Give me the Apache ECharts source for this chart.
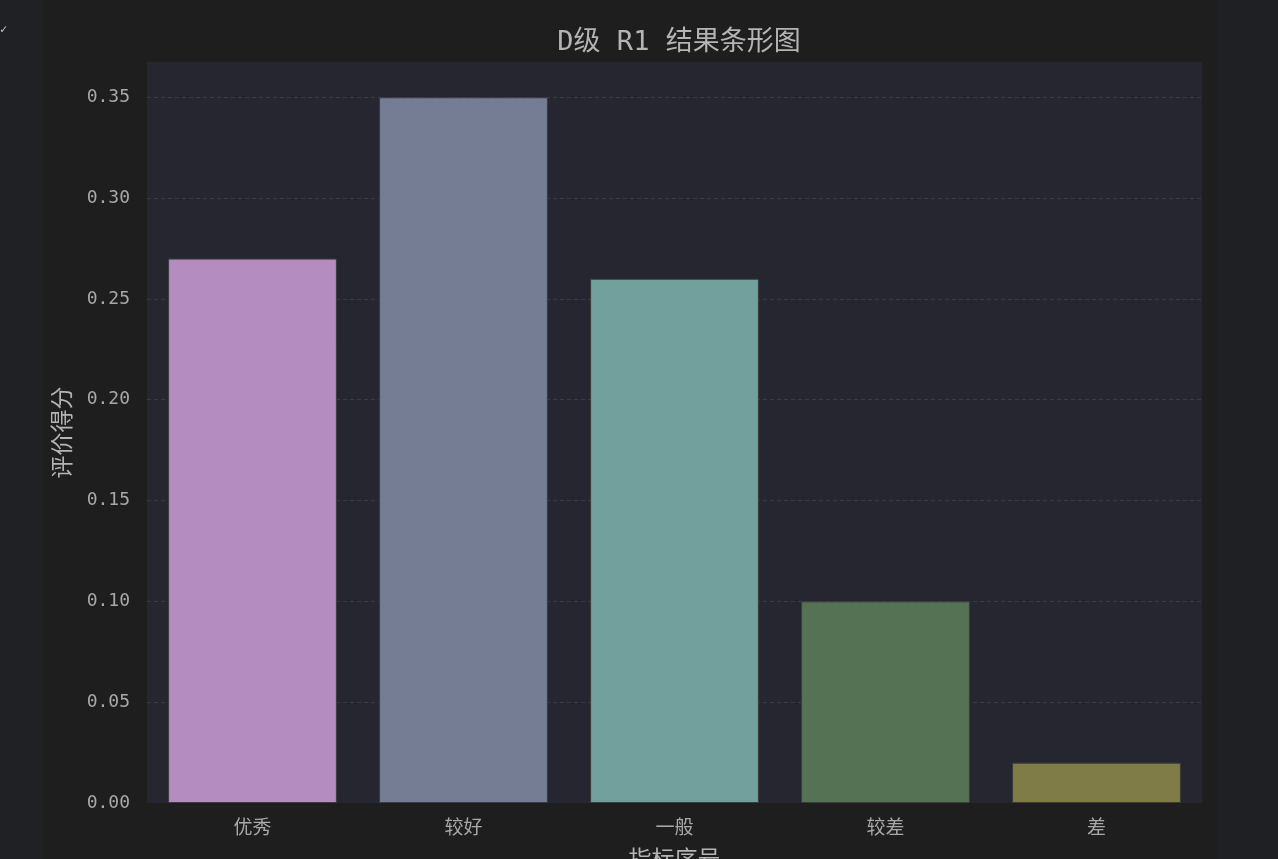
<!DOCTYPE html>
<html>
<head>
<meta charset="utf-8">
<script src="https://cdn.jsdelivr.net/npm/echarts@6/dist/echarts.min.js"></script>
<style>
html,body{margin:0;padding:0;background:#202124;width:1278px;height:859px;overflow:hidden;}
#fig{position:absolute;left:42px;top:0;width:1175px;height:859px;background:#1e1e1e;}
#rs{position:absolute;left:1217px;top:0;width:61px;height:859px;background:#1f2023;}
#chart{position:absolute;left:0;top:0;width:1278px;height:859px;}
</style>
</head>
<body>
<div id="fig"></div>
<div id="rs"></div>
<div id="chart"></div>
<script>
var categories = ['优秀', '较好', '一般', '较差', '差'];
var values = [0.27, 0.35, 0.26, 0.10, 0.02];
var barColors = ['#b48cc0', '#747d94', '#72a09c', '#557354', '#807c48'];
var titleText = 'D级 R1 结果条形图';
var xName = '指标序号';
var yName = '评价得分';

var FONT = '"DejaVu Sans Mono", "Noto Sans CJK SC", monospace';
var chart = echarts.init(document.getElementById('chart'));
chart.setOption({
  backgroundColor: 'transparent',
  animation: false,
  title: {
    text: titleText,
    left: 674, top: 24, textAlign: 'center',
    textStyle: {color: '#b4b4b4', fontSize: 27, fontWeight: 'normal', fontFamily: FONT}
  },
  graphic: [{
    type: 'text', left: 0, top: 24,
    style: {text: '✓', fill: '#c8c8c8', fontSize: 12, fontFamily: FONT}
  }],
  grid: {
    left: 147, right: 1278 - 1202, top: 62, bottom: 859 - 803,
    show: true, backgroundColor: '#262630', borderWidth: 0,
    containLabel: false, outerBoundsMode: 'none'
  },
  xAxis: {
    type: 'category',
    data: categories,
    name: xName, nameLocation: 'middle', nameGap: 47,
    nameTextStyle: {color: '#b4b4b4', fontSize: 23, fontFamily: FONT},
    axisLine: {show: false}, axisTick: {show: false},
    axisLabel: {color: '#a8a8a8', fontSize: 19, margin: 17, fontFamily: FONT},
    splitLine: {show: false}
  },
  yAxis: {
    type: 'value', min: 0, max: 0.3675, interval: 0.05,
    name: yName, nameLocation: 'middle', nameGap: 63, nameRotate: 90,
    nameTextStyle: {color: '#b4b4b4', fontSize: 23, fontFamily: FONT},
    axisLine: {show: false}, axisTick: {show: false},
    axisLabel: {color: '#a8a8a8', fontSize: 18, margin: 17, fontFamily: FONT,
      showMaxLabel: false, verticalAlign: 'middle', padding: [3, 0, 0, 0],
      formatter: function (v) { return v.toFixed(2); }},
    splitLine: {show: true, showMaxLine: false, showMinLine: false,
      lineStyle: {color: '#3a3a42', type: [4, 3], width: 1}}
  },
  series: [{
    type: 'bar',
    barWidth: '80%',
    data: values.map(function (v, i) {
      return {value: v, itemStyle: {color: barColors[i]}};
    }),
    itemStyle: {borderColor: '#3c3c3c', borderWidth: 1}
  }]
});
</script>
</body>
</html>
